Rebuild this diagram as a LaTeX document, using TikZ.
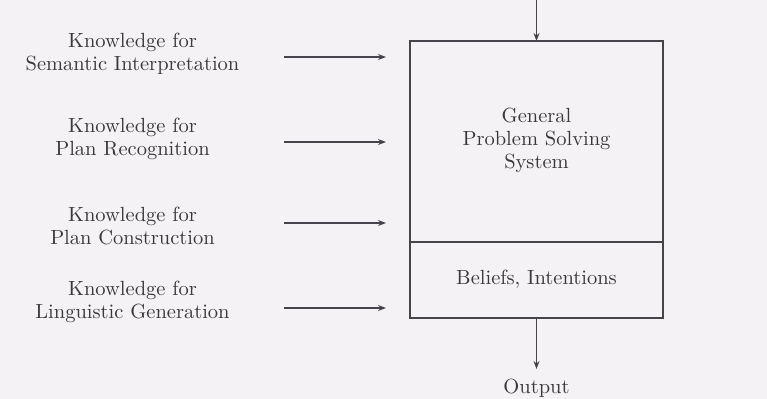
\documentclass[tikz,border=0pt]{standalone}
\usetikzlibrary{arrows.meta}
\definecolor{bgc}{HTML}{F4F2F4}
\definecolor{ink}{HTML}{3A383C}
\definecolor{linec}{HTML}{46444A}
\begin{document}
\begin{tikzpicture}[x=0.5pt,y=-0.5pt,
  lbl/.style={align=center,text=ink,font=\fontsize{10.25}{11.5}\selectfont},
  boxpart/.style={draw=linec,line width=0.7pt,inner sep=0pt,outer sep=0pt,minimum width=126.5pt},
  arr/.style={draw=linec,line width=0.6pt,-{Stealth[length=4pt,width=3pt]}}]
\fill[bgc] (0,0) rectangle (767,399);
\useasboundingbox (0,0) rectangle (767,399);
% box
\node[boxpart,minimum height=100.5pt] (gps) at (536.5,141.5) {};
\node[boxpart,minimum height=38pt] (bel) at (536.5,280) {};
\node[lbl] (gpst) at (536.5,140.5) {General\\Problem Solving\\System};
\node[lbl] (belt) at (536.5,279) {Beliefs, Intentions};
% left labels
\node[lbl] (k1) at (132.5,53.5) {Knowledge for\\Semantic Interpretation};
\node[lbl] (k2) at (132.5,138.5) {Knowledge for\\Plan Recognition};
\node[lbl] (k3) at (132.5,226.5) {Knowledge for\\Plan Construction};
\node[lbl] (k4) at (132.5,302) {Knowledge for\\Linguistic Generation};
% arrow ends
\coordinate (s1) at (284,57);  \coordinate (e1) at (386,57);
\coordinate (s2) at (284,142); \coordinate (e2) at (386,142);
\coordinate (s3) at (284,223); \coordinate (e3) at (386,223);
\coordinate (s4) at (284,308); \coordinate (e4) at (386,308);
\draw[arr] (s1) -- (e1);
\draw[arr] (s2) -- (e2);
\draw[arr] (s3) -- (e3);
\draw[arr] (s4) -- (e4);
% top input
\coordinate (top) at (536.5,0);
\draw[arr] (top) -- (gps.north);
% output
\node[lbl] (out) at (536.5,388) {Output};
\coordinate (oute) at (536.5,369);
\draw[arr] (bel.south) -- (oute);
\end{tikzpicture}
\end{document}
